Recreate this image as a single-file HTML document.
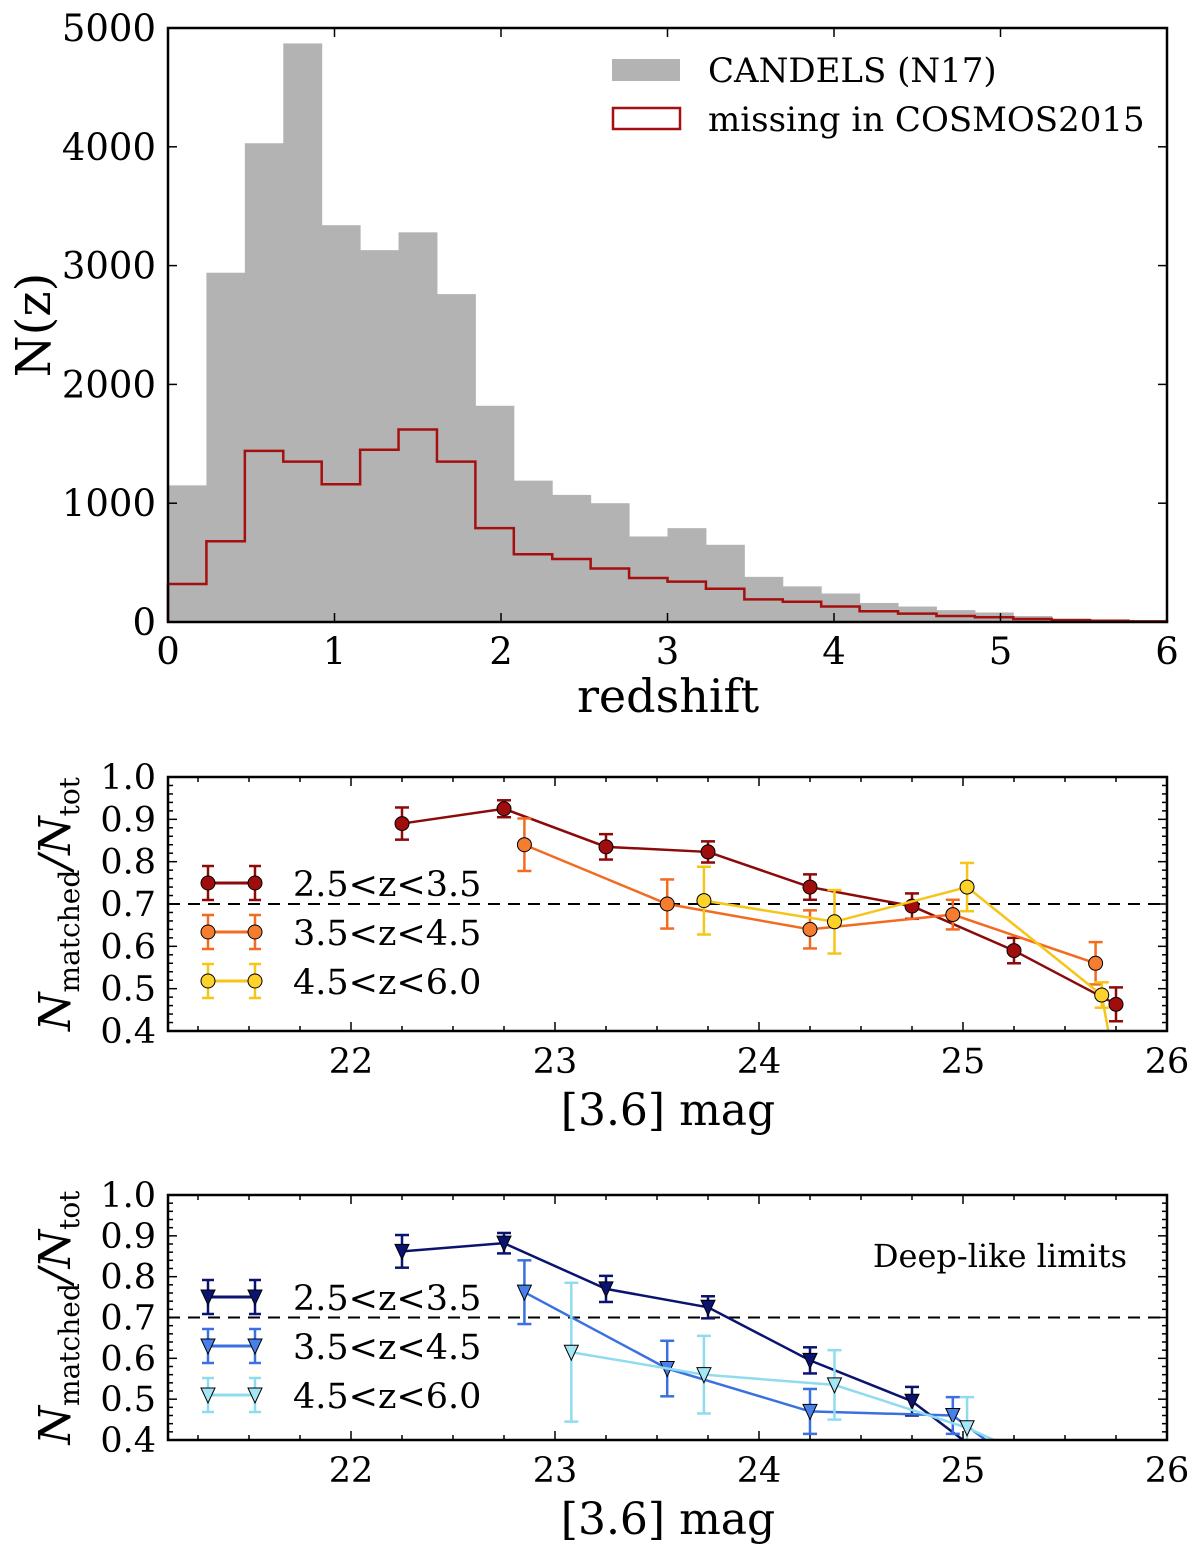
<!DOCTYPE html>
<html><head><meta charset="utf-8"><style>
body{margin:0;background:#fff}
svg{display:block}
text{font-family:"DejaVu Serif","Liberation Serif",serif;fill:#000}
</style></head><body>
<svg id="c" width="1200" height="1564" xmlns="http://www.w3.org/2000/svg"></svg>
<script>
// ---- Top histogram data ----
const binCount = 26;
const grayCounts = [1150,2940,4030,4870,3340,3130,3280,2760,1820,1190,1070,1000,720,790,650,380,300,240,160,130,100,80,50,30,20,15];
const redCounts = [320,680,1440,1350,1160,1450,1620,1350,790,570,530,450,370,340,280,190,170,130,90,70,50,40,25,15,10,5];
const topXTicks = [0,1,2,3,4,5,6];
const topYTicks = [0,1000,2000,3000,4000,5000];
// ---- Middle panel data ----
const magTicks = [22,23,24,25,26];
const fracTicks = [0.4,0.5,0.6,0.7,0.8,0.9,1.0];
const midMagA = [22.25,22.75,23.25,23.75,24.25,24.75,25.25,25.75];
const midValA = [0.89,0.925,0.835,0.823,0.74,0.695,0.59,0.463];
const midErrA = [0.038,0.02,0.03,0.025,0.03,0.03,0.03,0.04];
const midMagB = [22.85,23.55,24.25,24.95,25.65];
const midValB = [0.84,0.70,0.64,0.675,0.56];
const midErrB = [0.062,0.058,0.045,0.035,0.05];
const midMagC = [23.73,24.37,25.02,25.68,25.75];
const midValC = [0.708,0.658,0.74,0.485,0.30];
const midErrC = [0.08,0.075,0.057,0.03,0.0];
// ---- Bottom panel data ----
const botMagA = [22.25,22.75,23.25,23.75,24.25,24.75,25.25];
const botValA = [0.862,0.882,0.77,0.725,0.595,0.495,0.305];
const botErrA = [0.04,0.025,0.032,0.027,0.032,0.035,0.04];
const botMagB = [22.85,23.55,24.25,24.95,25.65];
const botValB = [0.762,0.575,0.47,0.46,0.20];
const botErrB = [0.078,0.068,0.055,0.045,0.05];
const botMagC = [23.08,23.73,24.37,25.02,25.68];
const botValC = [0.615,0.56,0.535,0.43,0.28];
const botErrC = [0.17,0.095,0.085,0.075,0.08];

const NS="http://www.w3.org/2000/svg";
const svg=document.getElementById('c');
function el(tag,attrs,parent){const e=document.createElementNS(NS,tag);for(const k in attrs)e.setAttribute(k,attrs[k]);(parent||svg).appendChild(e);return e;}
function txt(s,x,y,size,anchor,parent,extra){const t=el('text',Object.assign({x:x,y:y,'font-size':size,'text-anchor':anchor||'middle'},extra||{}),parent);t.textContent=s;return t;}

// ================= TOP PANEL =================
const T={l:168,r:1167,t:28,b:622};
const tx=v=>T.l+(v/6)*(T.r-T.l);
const ty=v=>T.b-(v/5000)*(T.b-T.t);
const gTop=el('g',{});


const bw=6/binCount;
grayCounts.forEach((c,i)=>{
  const r=el('rect',{x:tx(i*bw),y:ty(c),width:tx((i+1)*bw)-tx(i*bw)+0.5,height:T.b-ty(c),fill:'#b3b3b3'},gTop);
  
  
});
let d='M'+tx(0)+','+T.b;
redCounts.forEach((c,i)=>{d+=' L'+tx(i*bw)+','+ty(c)+' L'+tx((i+1)*bw)+','+ty(c);});
d+=' L'+tx(6)+','+T.b;
const step=el('path',{d:d,fill:'none',stroke:'#a50f0f','stroke-width':2.5},gTop);


function frame(P,gp){const f=el('rect',{x:P.l,y:P.t,width:P.r-P.l,height:P.b-P.t,fill:'none',stroke:'#000','stroke-width':2.5},gp);}
frame(T,gTop);
topXTicks.forEach(v=>{const x=tx(v);el('line',{x1:x,x2:x,y1:T.b,y2:T.b-9,stroke:'#000','stroke-width':1.5},gTop);el('line',{x1:x,x2:x,y1:T.t,y2:T.t+9,stroke:'#000','stroke-width':1.5},gTop);
  const t=txt(String(v),x,T.b+42,37,'middle',gTop);});
topYTicks.forEach(v=>{const y=ty(v);el('line',{x1:T.l,x2:T.l+9,y1:y,y2:y,stroke:'#000','stroke-width':1.5},gTop);el('line',{x1:T.r,x2:T.r-9,y1:y,y2:y,stroke:'#000','stroke-width':1.5},gTop);
  const t=txt(String(v),T.l-12,y+13,37,'end',gTop);});
let t1=txt('redshift',668,712,46,'middle',gTop);
let t2=txt('N(z)',0,0,48,'middle',gTop,{transform:'translate(50,325) rotate(-90)'});
const lg=el('g',{},gTop);
el('rect',{x:612,y:59,width:68,height:22,fill:'#b3b3b3'},lg);
let l1=txt('CANDELS (N17)',708,82,34,'start',lg);
el('rect',{x:613,y:108,width:67,height:21,fill:'none',stroke:'#a50f0f','stroke-width':2.5},lg);
let l2=txt('missing in COSMOS2015',708,131,34,'start',lg);

// ================= MAG PANELS =================
function magPanel(P,name,series,triangles,note){
  const g=el('g',{});
  const mx=m=>351+(m-22)*204;
  const my=v=>P.b-(v-0.4)/0.6*(P.b-P.t);
  const cp='clip-'+name;
  const defs=el('defs',{},g);const cl=el('clipPath',{id:cp},defs);el('rect',{x:P.l,y:P.t,width:P.r-P.l,height:P.b-P.t},cl);
  const inner=el('g',{'clip-path':'url(#'+cp+')'},g);
  const dash=el('line',{x1:P.l,x2:P.r,y1:my(0.7),y2:my(0.7),stroke:'#000','stroke-width':2,'stroke-dasharray':'12,8'},inner);
  
  series.forEach(s=>{
    const sg=el('g',{},inner);
    const pts=s.m.map((m,i)=>mx(m)+','+my(s.v[i])).join(' ');
    el('polyline',{points:pts,fill:'none',stroke:s.line,'stroke-width':2.5},sg);
    s.m.forEach((m,i)=>{const x=mx(m),y=my(s.v[i]),e=s.e[i];
      if(e>0){el('line',{x1:x,x2:x,y1:my(s.v[i]-e),y2:my(s.v[i]+e),stroke:s.line,'stroke-width':2.5},sg);
      [s.v[i]-e,s.v[i]+e].forEach(q=>el('line',{x1:x-7,x2:x+7,y1:my(q),y2:my(q),stroke:s.line,'stroke-width':2.5},sg));}
      let mk;
      if(triangles) mk=el('path',{d:'M'+(x-7)+','+(y-7)+' L'+(x+7)+','+(y-7)+' L'+x+','+(y+8)+' Z',fill:s.fill,stroke:'#000','stroke-width':1},sg);
      else mk=el('circle',{cx:x,cy:y,r:s.r||7,fill:s.fill,stroke:'#000','stroke-width':1},sg);
      
    });
  });
  frame(P,g);
  for(let m=21.25;m<26.01;m+=0.25){const x=mx(m);if(x<P.l||x>P.r+1)continue;const major=Math.abs(m-Math.round(m))<1e-6;const L=major?9:5;
    el('line',{x1:x,x2:x,y1:P.b,y2:P.b-L,stroke:'#000','stroke-width':1.5},g);el('line',{x1:x,x2:x,y1:P.t,y2:P.t+L,stroke:'#000','stroke-width':1.5},g);}
  magTicks.forEach(v=>{const t=txt(String(v),mx(v),P.b+42,35,'middle',g);});
  for(let k=0;k<=30;k++){const v=0.4+k*0.02;const y=my(v);const major=k%5===0;const L=major?9:5;
    el('line',{x1:P.l,x2:P.l+L,y1:y,y2:y,stroke:'#000','stroke-width':1.5},g);el('line',{x1:P.r,x2:P.r-L,y1:y,y2:y,stroke:'#000','stroke-width':1.5},g);}
  fracTicks.forEach(v=>{const t=txt(v.toFixed(1),P.l-12,my(v)+12,35,'end',g);});
  const xt=txt('[3.6] mag',668,P.b+94,44,'middle',g);
  const yt=el('text',{x:0,y:0,'font-size':44,'text-anchor':'middle','font-style':'italic',transform:'translate('+(P.l-98)+','+((P.t+P.b)/2)+') rotate(-90)'},g);
  
  yt.innerHTML='N<tspan font-size="28" font-style="normal" dy="9">matched</tspan><tspan dy="-9">/N</tspan><tspan font-size="28" font-style="normal" dy="9">tot</tspan>';
  const lg=el('g',{},g);
  const labels=['2.5<z<3.5','3.5<z<4.5','4.5<z<6.0'];
  series.forEach((s,i)=>{const y=P.t+(triangles?102:106)+i*49;
    const eg=el('g',{},lg);
    el('line',{x1:208,x2:255,y1:y,y2:y,stroke:s.line,'stroke-width':3},eg);
    [208,255].forEach(x=>{el('line',{x1:x,x2:x,y1:y-17,y2:y+17,stroke:s.line,'stroke-width':2.5},eg);
      [y-17,y+17].forEach(q=>el('line',{x1:x-6,x2:x+6,y1:q,y2:q,stroke:s.line,'stroke-width':2.5},eg));
      if(triangles) el('path',{d:'M'+(x-7)+','+(y-7)+' L'+(x+7)+','+(y-7)+' L'+x+','+(y+8)+' Z',fill:s.fill,stroke:'#000','stroke-width':1},eg);
      else el('circle',{cx:x,cy:y,r:7,fill:s.fill,stroke:'#000','stroke-width':1},eg);});
    txt(labels[i],293,y+13,35,'start',eg);
  });
  if(note){const n=txt(note,1127,P.t+72,32,'end',g);}
}
magPanel({l:168,r:1167,t:777,b:1031},'middle-panel',[
  {key:'series-z2.5-3.5',m:midMagA,v:midValA,e:midErrA,line:'#8b0a0a',fill:'#a00d0d'},
  {key:'series-z3.5-4.5',m:midMagB,v:midValB,e:midErrB,line:'#f26b21',fill:'#f47d30'},
  {key:'series-z4.5-6.0',m:midMagC,v:midValC,e:midErrC,line:'#f5c518',fill:'#fcd22b'}],false,null);
magPanel({l:168,r:1167,t:1195,b:1440},'bottom-panel',[
  {key:'series-z2.5-3.5',m:botMagA,v:botValA,e:botErrA,line:'#0a1470',fill:'#0a1470'},
  {key:'series-z3.5-4.5',m:botMagB,v:botValB,e:botErrB,line:'#3a70e0',fill:'#4680e8'},
  {key:'series-z4.5-6.0',m:botMagC,v:botValC,e:botErrC,line:'#8fdcef',fill:'#a5e6f5'}],true,'Deep-like limits');
</script>
</body></html>
